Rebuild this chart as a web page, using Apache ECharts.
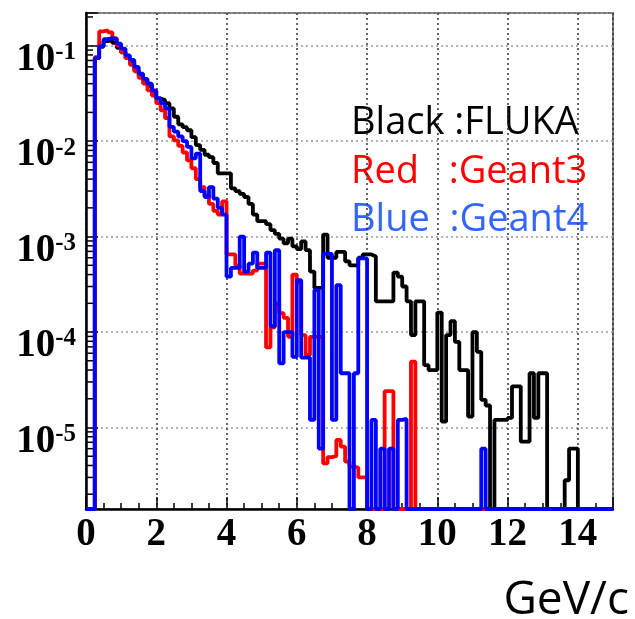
<!DOCTYPE html>
<html>
<head>
<meta charset="utf-8">
<script src="https://cdn.jsdelivr.net/npm/echarts@6/dist/echarts.min.js"></script>
<style>
html,body{margin:0;padding:0;background:#fff;}
#chart{width:635px;height:619px;}
</style>
</head>
<body>
<div id="chart"></div>
<script>
// ---- data (bins of 0.125 GeV/c from 0 to 15) ----
const binWidth = 0.125;
const fluka = [
  0, 0, 7.4e-2, 9.8e-2, 1.12e-1, 1.15e-1, 1.07e-1, 9.5e-2,
  8.5e-2, 7.4e-2, 6.5e-2, 5.5e-2, 4.8e-2, 4.3e-2, 3.8e-2, 3.3e-2,
  2.8e-2, 2.7e-2, 2.5e-2, 2.2e-2, 1.8e-2, 1.5e-2, 1.4e-2, 1.3e-2,
  1.1e-2, 9.1e-3, 8.1e-3, 7.2e-3, 6.8e-3, 5.9e-3, 4.6e-3, 4.6e-3,
  4.6e-3, 3.2e-3, 3.0e-3, 2.8e-3, 2.6e-3, 2.2e-3, 1.7e-3, 1.45e-3,
  1.45e-3, 1.35e-3, 1.17e-3, 1.07e-3, 9.5e-4, 8.5e-4, 9.5e-4, 7.9e-4,
  7.4e-4, 8.9e-4, 7.2e-4, 4.3e-4, 2.9e-4, 2.9e-4, 1.05e-3, 6.0e-4,
  6.0e-4, 6.9e-4, 6.9e-4, 5.5e-4, 5.0e-4, 5.0e-4, 6.0e-4, 6.5e-4,
  6.5e-4, 6.2e-4, 2.1e-4, 2.1e-4, 2.1e-4, 2.1e-4, 4.2e-4, 3.8e-4,
  3.0e-4, 2.1e-4, 9.3e-5, 2.1e-4, 2.1e-4, 4.5e-5, 4.0e-5, 4.0e-5,
  1.6e-4, 1.15e-5, 9.3e-5, 1.3e-4, 7.9e-5, 4.0e-5, 4.0e-5, 1.3e-5,
  1.0e-4, 6.2e-5, 1.95e-5, 1.7e-5, 0, 1.2e-5, 1.2e-5, 1.2e-5,
  1.26e-5, 2.7e-5, 2.7e-5, 7.1e-6, 7.1e-6, 3.7e-5, 1.26e-5, 3.7e-5,
  3.7e-5, 0, 0, 0, 0, 2.8e-6, 6.0e-6, 6.0e-6,
  0, 0, 0, 0, 0, 0, 0, 0
];
const geant3 = [
  0, 0, 7.6e-2, 1.41e-1, 1.45e-1, 1.38e-1, 1.2e-1, 1.0e-1,
  8.5e-2, 7.4e-2, 6.3e-2, 5.4e-2, 4.6e-2, 4.0e-2, 3.4e-2, 3.0e-2,
  2.5e-2, 2.1e-2, 1.74e-2, 1.12e-2, 1.02e-2, 8.9e-3, 7.6e-3, 6.3e-3,
  5.2e-3, 4.0e-3, 3.3e-3, 2.7e-3, 2.2e-3, 1.86e-3, 1.7e-3, 2.34e-3,
  6.5e-4, 6.5e-4, 5.0e-4, 4.1e-4, 4.1e-4, 4.1e-4, 4.4e-4, 5.2e-4,
  5.2e-4, 6.9e-5, 1.12e-4, 2.0e-4, 1.58e-4, 1.41e-4, 8.9e-5, 4.0e-4,
  3.3e-4, 9.3e-5, 5.75e-5, 8.9e-5, 8.9e-5, 8.9e-5, 4.2e-6, 4.9e-6,
  5.0e-6, 7.4e-6, 6.3e-6, 4.4e-6, 3.9e-6, 3.8e-6, 3.0e-6, 3.0e-6,
  0, 0, 0, 0, 2.4e-5, 2.4e-5, 0, 0,
  0, 0, 4.9e-5, 0, 0, 0, 0, 0,
  0, 0, 0, 0, 0, 0, 0, 0,
  0, 0, 0, 0, 0, 0, 0, 0,
  0, 0, 0, 0, 0, 0, 0, 0,
  0, 0, 0, 0, 0, 0, 0, 0,
  0, 0, 0, 0, 0, 0, 0, 0
];
const geant4 = [
  0, 0, 7.4e-2, 9.8e-2, 1.17e-1, 1.2e-1, 1.17e-1, 1.05e-1,
  9.3e-2, 7.9e-2, 7.1e-2, 6.0e-2, 5.1e-2, 4.5e-2, 4.0e-2, 3.4e-2,
  2.8e-2, 2.5e-2, 2.2e-2, 1.41e-2, 1.26e-2, 1.12e-2, 1.0e-2, 8.7e-3,
  6.6e-3, 7.4e-3, 3.0e-3, 2.6e-3, 3.3e-3, 2.5e-3, 2.0e-3, 1.7e-3,
  3.8e-4, 4.7e-4, 4.7e-4, 1.0e-3, 4.3e-4, 5.2e-4, 6.8e-4, 4.7e-4,
  4.7e-4, 6.8e-4, 1.15e-4, 7.2e-4, 4.7e-5, 1.0e-4, 1.0e-4, 5.5e-5,
  3.5e-4, 5.4e-5, 5.4e-5, 1.2e-5, 2.75e-4, 6.0e-6, 6.6e-4, 6.6e-4,
  1.2e-5, 3.1e-4, 3.7e-5, 3.7e-5, 0, 3.7e-5, 5.9e-4, 5.9e-4,
  0, 1.2e-5, 0, 6.0e-6, 0, 6.0e-6, 0, 1.2e-5,
  1.23e-5, 0, 0, 0, 0, 0, 0, 0,
  0, 0, 0, 0, 0, 0, 0, 0,
  0, 0, 6.0e-6, 0, 0, 0, 0, 0,
  0, 0, 0, 0, 0, 0, 0, 0,
  0, 0, 0, 0, 0, 0, 0, 0,
  0, 0, 0, 0, 0, 0, 0, 0
];
const xTicks = [0, 2, 4, 6, 8, 10, 12, 14];
const yExponents = [-5, -4, -3, -2, -1];
const legendLines = ['Black :FLUKA', 'Red   :Geant3', 'Blue  :Geant4'];
const xTitle = 'GeV/c';
const X_MAX = 15;
const Y_MIN = 1.4e-6;
const Y_MAX = 0.22;

// ---- helpers ----
const LOG_MIN = Math.log10(Y_MIN);
const LOG_MAX = Math.log10(Y_MAX);
function stepPoints(vals) {
  const pts = vals.map((v, i) => [i * binWidth, Math.log10(Math.max(v, Y_MIN))]);
  pts.push([vals.length * binWidth, pts[pts.length - 1][1]]);
  return pts;
}
const minorY = [];
for (let n = -7; n <= 0; n++) {
  for (let k = 2; k <= 9; k++) {
    const l = Math.log10(k * Math.pow(10, n));
    if (l > LOG_MIN && l < LOG_MAX) minorY.push([0, l]);
  }
}
function isInt(v) { return Math.abs(v - Math.round(v)) < 1e-6; }

const chart = echarts.init(document.getElementById('chart'), null, {renderer: 'canvas'});
const serif = '"Liberation Serif", "Times New Roman", serif';
const sans = '"Open Sans", "Noto Sans", sans-serif';

chart.setOption({
  animation: false,
  backgroundColor: '#fff',
  grid: {
    left: 86, right: 22, top: 13, bottom: 110,
    show: true, borderColor: '#777', borderWidth: 2,
    backgroundColor: 'transparent',
    containLabel: false, outerBoundsMode: 'none'
  },
  xAxis: [{
    type: 'value', min: 0, max: X_MAX, interval: 2,
    axisLine: {show: true, onZero: false, lineStyle: {color: '#000', width: 2.5}},
    axisTick: {show: true, inside: true, length: 12, lineStyle: {color: '#000', width: 1.5}},
    axisLabel: {
      show: true, margin: 6, color: '#000',
      fontFamily: serif, fontWeight: 'bold', fontSize: 39,
      formatter: v => (xTicks.includes(v) ? String(v) : '')
    },
    splitLine: {show: true, lineStyle: {color: '#333', type: [2, 3], width: 1.5}}
  }, {
    type: 'value', min: 0, max: X_MAX, interval: 0.5, position: 'bottom',
    axisLine: {show: false},
    axisTick: {show: true, inside: true, length: 6, lineStyle: {color: '#000', width: 1.5}},
    axisLabel: {show: false},
    splitLine: {show: false}
  }],
  yAxis: {
    type: 'value', min: LOG_MIN, max: LOG_MAX,
    axisLine: {show: true, onZero: false, lineStyle: {color: '#000', width: 2.5}},
    axisTick: {show: true, inside: true, length: 12, lineStyle: {color: '#000', width: 1.5}},
    axisLabel: {
      show: true, margin: 10, padding: [28, 0, 0, 0],
      formatter: v => (isInt(v) && yExponents.includes(Math.round(v)) ? '{b|10}{s|' + Math.round(v) + '}' : ''),
      rich: {
        b: {fontFamily: serif, fontWeight: 'bold', fontSize: 39, color: '#000'},
        s: {fontFamily: serif, fontWeight: 'bold', fontSize: 25, color: '#000', verticalAlign: 'top'}
      }
    },
    splitLine: {show: true, lineStyle: {color: '#999', type: [2, 3], width: 1.5}}
  },
  series: [
    {
      type: 'custom', xAxisIndex: 0, yAxisIndex: 0, data: minorY, silent: true,
      renderItem: (params, api) => {
        const p = api.coord([api.value(0), api.value(1)]);
        return {type: 'line', shape: {x1: p[0], y1: p[1], x2: p[0] + 7, y2: p[1]},
                style: {stroke: '#000', lineWidth: 1.5}};
      }
    },
    {name: 'FLUKA', type: 'line', step: 'end', data: stepPoints(fluka), showSymbol: false,
     lineStyle: {color: '#000000', width: 3.8}, itemStyle: {color: '#000000'}},
    {name: 'Geant3', type: 'line', step: 'end', data: stepPoints(geant3), showSymbol: false,
     lineStyle: {color: '#ff0000', width: 3.8}, itemStyle: {color: '#ff0000'}},
    {name: 'Geant4', type: 'line', step: 'end', data: stepPoints(geant4), showSymbol: false,
     lineStyle: {color: '#0000ff', width: 3.8}, itemStyle: {color: '#0000ff'}}
  ],
  graphic: [
    {type: 'text', x: 351, y: 104, style: {text: legendLines[0], fill: '#000000', font: '38px ' + sans, verticalAlign: 'top'}},
    {type: 'text', x: 351, y: 153, style: {text: legendLines[1], fill: '#ff0000', font: '38px ' + sans, verticalAlign: 'top'}},
    {type: 'text', x: 351, y: 201, style: {text: legendLines[2], fill: '#3366ff', font: '38px ' + sans, verticalAlign: 'top'}},
    {type: 'text', x: 629, y: 578, style: {text: xTitle, fill: '#000000', font: '46px ' + sans, align: 'right', verticalAlign: 'top'}}
  ]
});
</script>
</body>
</html>
